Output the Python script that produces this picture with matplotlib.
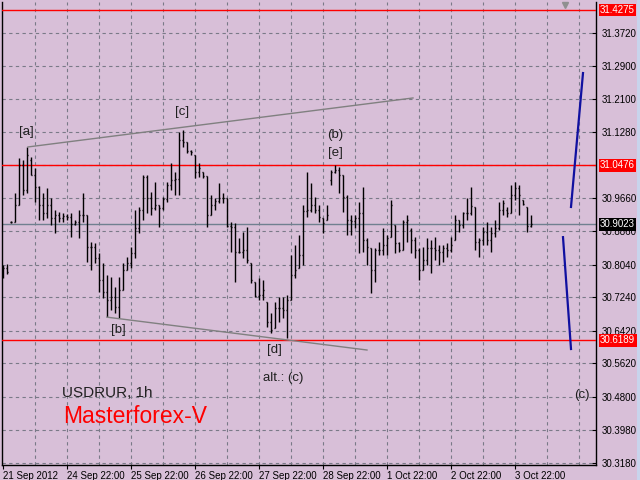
import matplotlib
matplotlib.use("Agg")
import matplotlib.pyplot as plt
import matplotlib.transforms as mtransforms
from matplotlib.collections import LineCollection

plt.rcParams["font.family"] = ["Liberation Sans", "DejaVu Sans"]

# ---------------- data (USDRUR, 1h bars) ----------------
opens = [30.778, 30.795, 30.908, 30.908, 30.950, 31.048, 30.987, 31.060, 31.023, 30.994,
         30.950, 30.930, 30.950, 30.918, 30.925, 30.918, 30.923, 30.920, 30.903, 30.908,
         30.925, 30.925, 30.847, 30.847, 30.820, 30.766, 30.737, 30.717, 30.724, 30.700,
         30.742, 30.791, 30.808, 30.832, 30.893, 30.938, 31.018, 30.967, 30.942, 30.950,
         30.942, 30.965, 30.999, 31.011, 31.014, 31.109, 31.104, 31.082, 31.072, 31.031,
         31.031, 31.021, 30.925, 30.950, 30.960, 30.967, 30.967, 30.898, 30.896, 30.835,
         30.835, 30.840, 30.808, 30.761, 30.727, 30.729, 30.712, 30.663, 30.648, 30.697,
         30.697, 30.693, 30.717, 30.778, 30.795, 30.827, 30.935, 30.938, 30.950, 30.938,
         30.918, 30.913, 31.011, 31.031, 31.036, 31.023, 30.969, 30.913, 30.911, 30.918,
         30.930, 30.864, 30.844, 30.791, 30.840, 30.840, 30.852, 30.871, 30.901, 30.857,
         30.840, 30.908, 30.889, 30.864, 30.840, 30.791, 30.815, 30.844, 30.844, 30.840,
         30.835, 30.844, 30.840, 30.864, 30.913, 30.901, 30.930, 30.930, 30.945, 30.859,
         30.864, 30.884, 30.864, 30.881, 30.893, 30.938, 30.938, 30.930, 30.974, 30.991,
         30.962, 30.945, 30.898]
highs = [30.803, 30.805, 30.911, 30.979, 31.065, 31.060, 31.092, 31.067, 31.040, 30.996,
         30.979, 30.991, 30.967, 30.938, 30.933, 30.930, 30.928, 30.930, 30.913, 30.938,
         30.979, 30.925, 30.859, 30.857, 30.832, 30.808, 30.778, 30.773, 30.749, 30.773,
         30.808, 30.822, 30.847, 30.938, 30.945, 31.023, 31.023, 30.982, 31.006, 30.950,
         30.969, 31.006, 31.053, 31.031, 31.129, 31.134, 31.104, 31.085, 31.072, 31.053,
         31.031, 31.021, 30.974, 30.967, 31.004, 30.979, 30.967, 30.908, 30.906, 30.869,
         30.884, 30.896, 30.808, 30.761, 30.771, 30.766, 30.712, 30.685, 30.712, 30.724,
         30.724, 30.729, 30.827, 30.852, 30.876, 30.950, 31.031, 31.004, 30.969, 30.950,
         30.918, 30.950, 31.036, 31.048, 31.043, 31.023, 30.974, 30.925, 30.925, 30.957,
         30.994, 30.869, 30.844, 30.844, 30.859, 30.893, 30.876, 30.962, 30.901, 30.859,
         30.913, 30.925, 30.893, 30.871, 30.844, 30.847, 30.869, 30.864, 30.871, 30.852,
         30.852, 30.857, 30.871, 30.925, 30.913, 30.933, 30.967, 30.994, 30.945, 30.869,
         30.896, 30.908, 30.896, 30.913, 30.957, 30.962, 30.945, 30.999, 31.006, 30.999,
         30.962, 30.945, 30.925]
lows = [30.771, 30.781, 30.906, 30.908, 30.950, 30.974, 30.979, 31.023, 30.957, 30.913,
        30.913, 30.918, 30.901, 30.881, 30.908, 30.908, 30.913, 30.871, 30.901, 30.869,
        30.908, 30.810, 30.791, 30.808, 30.737, 30.722, 30.675, 30.693, 30.685, 30.673,
        30.742, 30.791, 30.795, 30.820, 30.881, 30.913, 30.930, 30.925, 30.938, 30.896,
        30.938, 30.957, 30.987, 30.974, 30.974, 31.092, 31.077, 31.072, 31.016, 31.018,
        31.016, 30.896, 30.925, 30.938, 30.955, 30.955, 30.896, 30.835, 30.761, 30.832,
        30.820, 30.808, 30.759, 30.724, 30.717, 30.717, 30.651, 30.636, 30.648, 30.663,
        30.673, 30.624, 30.717, 30.771, 30.795, 30.803, 30.920, 30.933, 30.930, 30.908,
        30.881, 30.913, 30.999, 31.028, 30.979, 30.933, 30.876, 30.876, 30.893, 30.832,
        30.835, 30.803, 30.734, 30.761, 30.827, 30.827, 30.827, 30.871, 30.832, 30.835,
        30.840, 30.859, 30.832, 30.820, 30.766, 30.791, 30.803, 30.783, 30.815, 30.803,
        30.810, 30.822, 30.835, 30.864, 30.884, 30.893, 30.913, 30.925, 30.840, 30.822,
        30.852, 30.852, 30.835, 30.871, 30.889, 30.925, 30.920, 30.930, 30.962, 30.925,
        30.950, 30.884, 30.896]
closes = [30.795, 30.786, 30.908, 30.950, 31.048, 30.987, 31.072, 31.023, 30.994, 30.950,
          30.930, 30.950, 30.918, 30.925, 30.918, 30.923, 30.920, 30.903, 30.908, 30.925,
          30.925, 30.847, 30.847, 30.820, 30.766, 30.737, 30.717, 30.724, 30.700, 30.742,
          30.791, 30.808, 30.832, 30.893, 30.938, 31.018, 30.967, 30.942, 30.950, 30.942,
          30.965, 30.999, 31.011, 31.014, 31.109, 31.104, 31.082, 31.080, 31.031, 31.040,
          31.021, 30.925, 30.950, 30.960, 30.967, 30.967, 30.898, 30.896, 30.835, 30.835,
          30.840, 30.815, 30.766, 30.727, 30.729, 30.742, 30.663, 30.644, 30.697, 30.697,
          30.693, 30.717, 30.778, 30.791, 30.827, 30.935, 30.938, 30.950, 30.938, 30.920,
          30.906, 30.925, 31.031, 31.036, 31.023, 30.969, 30.913, 30.911, 30.918, 30.930,
          30.864, 30.847, 30.791, 30.840, 30.840, 30.852, 30.869, 30.950, 30.857, 30.840,
          30.908, 30.913, 30.864, 30.840, 30.791, 30.815, 30.844, 30.844, 30.840, 30.835,
          30.844, 30.840, 30.852, 30.913, 30.901, 30.930, 30.930, 30.947, 30.859, 30.864,
          30.884, 30.864, 30.881, 30.893, 30.938, 30.955, 30.930, 30.974, 30.991, 30.974,
          30.952, 30.898, 30.902]

price_ticks = [31.3720, 31.2900, 31.2100, 31.1280, 31.0470, 30.9660, 30.8860, 30.8040,
               30.7240, 30.6420, 30.5620, 30.4800, 30.3980, 30.3180]
price_labels = ["31.3720", "31.2900", "31.2100", "31.1280", "", "30.9660", "30.8860",
                "30.8040", "30.7240", "30.6420", "30.5620", "30.4800", "30.3980", "30.3180"]
red_levels = [31.4275, 31.0476, 30.6189]
current_price = 30.9023
date_ticks = [0, 16, 32, 48, 64, 80, 96, 112, 128]
date_labels = ["21 Sep 2012", "24 Sep 22:00", "25 Sep 22:00", "26 Sep 22:00",
               "27 Sep 22:00", "28 Sep 22:00", "1 Oct 22:00", "2 Oct 22:00", "3 Oct 22:00"]

# trend lines (bar index, price)
upper_trend = [(6.25, 31.092), (102.5, 31.212)]
lower_trend = [(26.0, 30.675), (91.0, 30.5945)]
blue_up = [(142.0, 30.945), (145.0, 31.273)]
blue_down = [(140.0, 30.871), (142.0, 30.597)]

wave_labels = [("[a]", 5.75, 31.129), ("[c]", 44.75, 31.178), ("[b]", 28.75, 30.644),
               ("(b)", 83.0, 31.121), ("[e]", 83.0, 31.077), ("[d]", 67.75, 30.595),
               ("alt.: (c)", 70.0, 30.526), ("(c)", 144.75, 30.484)]

BG = "#D8BFD8"

fig = plt.figure(figsize=(6.4, 4.8), dpi=100, facecolor=BG)
ax = fig.add_axes([2 / 640, 15 / 480, 594 / 640, 463 / 480], facecolor=BG)

ax.set_xlim(-0.25, 148.25)
ax.set_ylim(30.3128, 31.4471)

# grid
for v in range(8, 149, 8):
    ax.axvline(v, color="#7a7a88", lw=0.8, ls=(0, (3, 3)), zorder=1)
for p in price_ticks:
    ax.axhline(p, color="#7a7a88", lw=0.8, ls=(0, (3, 3)), zorder=1)

# bars
segs = []
for i, (o, h, l, c) in enumerate(zip(opens, highs, lows, closes)):
    segs.append([(i, l), (i, h)])
    segs.append([(i - 0.3, o), (i, o)])
    segs.append([(i, c), (i + 0.3, c)])
ax.add_collection(LineCollection(segs, colors="black", linewidths=1.0, zorder=4))

# horizontal levels
ax.axhline(current_price, color="#708090", lw=1, zorder=2)
for r in red_levels:
    ax.axhline(r, color="#FF0000", lw=1, zorder=3)

# trend lines
for line, col, lw in [(upper_trend, "#808080", 1), (lower_trend, "#808080", 1),
                      (blue_up, "#1010A0", 1.6), (blue_down, "#1010A0", 1.6)]:
    xs, ys = zip(*line)
    ax.plot(xs, ys, color=col, lw=lw, zorder=5)

ax.plot([140.6], [31.440], marker="v", color="#909090", ms=5, zorder=6, clip_on=False)

for txt, x, y in wave_labels:
    ax.text(x, y, txt, ha="center", va="center", fontsize=9.5, color="#202020", zorder=6)

ax.text(26.0, 30.489, "USDRUR, 1h", ha="center", va="center", fontsize=11,
        color="#202020")
ax.text(33.0, 30.432, "Masterforex-V", ha="center", va="center", fontsize=16.5,
        color="#FF0000")

# axes
for s in ax.spines.values():
    s.set_color("black")
    s.set_linewidth(1)
ax.spines["top"].set_visible(False)

ax.yaxis.tick_right()
ax.set_yticks(price_ticks)
ax.set_yticklabels(price_labels)
ax.tick_params(axis="y", direction="in", length=3, pad=4, labelsize=7,
               colors="black", width=0.8)
ax.set_xticks(date_ticks)
ax.set_xticklabels(date_labels, ha="left")
ax.tick_params(axis="x", direction="out", length=3, pad=1, labelsize=7,
               colors="black", width=0.8)

trans = mtransforms.blended_transform_factory(ax.transAxes, ax.transData)
for r in red_levels:
    ax.text(1.0 + 4 / 594, r, "%.4f" % r, transform=trans, ha="left", va="center",
            fontsize=7, color="white",
            bbox=dict(boxstyle="square,pad=0.15", fc="#FF0000", ec="none"), zorder=10)
ax.text(1.0 + 4 / 594, current_price, "%.4f" % current_price, transform=trans,
        ha="left", va="center", fontsize=7, color="white",
        bbox=dict(boxstyle="square,pad=0.15", fc="black", ec="none"), zorder=10)

fig.patches.append(plt.Rectangle((637 / 640, 0), 3 / 640, 1, transform=fig.transFigure,
                                 fc="#C8D4EC", ec="none"))

fig.savefig("out.png", dpi=100, facecolor=BG)
